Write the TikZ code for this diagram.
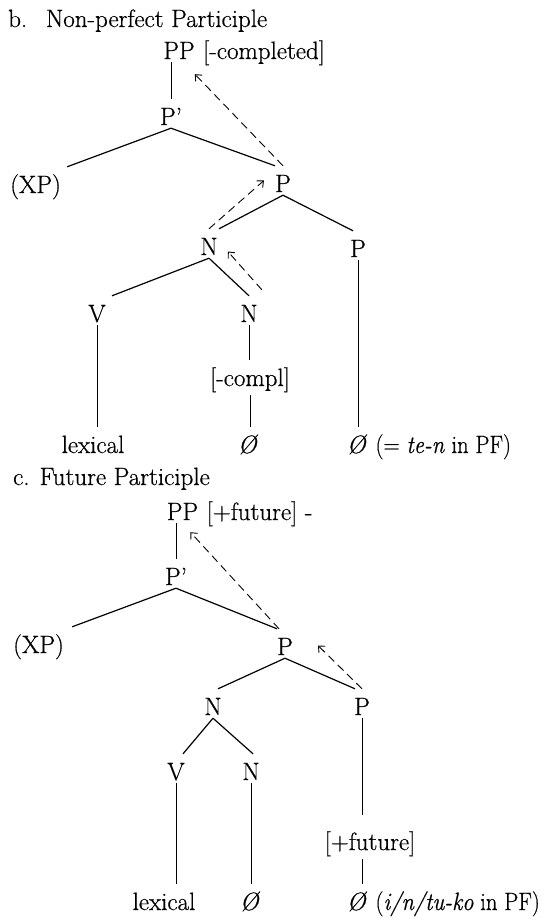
\documentclass[tikz,border=0pt]{standalone}
\usepackage{fontspec}
\setmainfont{Latin Modern Roman}[FakeBold=0.6]
\usepackage{graphicx}
\usetikzlibrary{arrows.meta,calc}
\begin{document}
\begin{tikzpicture}[x=1pt,y=-1pt,
  every node/.style={font=\fontsize{25}{30}\selectfont},
  lbl/.style={inner xsep=0pt,inner ysep=3pt,text height=23pt,text depth=0pt,anchor=base},
  brk/.style={lbl,text depth=6pt},
  ttl/.style={inner sep=0pt,anchor=base west},
  edge/.style={line width=1.2pt},
  vedge/.style={line width=0.8pt},
  mv/.style={line width=0.9pt,dash pattern=on 8pt off 5pt,-{Straight Barb[length=5pt,width=9pt]}}]
\useasboundingbox (0,0) rectangle (551,918);

% ---------- b. Non-perfect Participle ----------
\node[ttl] (btitle) at (8,27) {b.\hspace{0.75em}Non-perfect Participle};
\node[lbl] (bPP) at (179,59) {PP};
\node[lbl,anchor=base west] (bPPf) at ([xshift=8pt]bPP.base east) {[-completed]};
\node[lbl] (bPpr) at (171,125) {P’};
\node[lbl,anchor=base west] (bXP) at (10,193) {(XP)};
\node[lbl] (bP1) at (283,192) {P};
\node[lbl] (bN1) at (209,255) {N};
\node[lbl] (bP2) at (358,257) {P};
\node[lbl] (bV) at (97,322) {V};
\node[lbl] (bN2) at (249,322) {N};
\node[brk] (bcompl) at (250,386) {[-compl]};
\node[lbl] (blex) at (93,453) {lexical};
\node[lbl] (bnull) at (248,453) {\textit{Ø}};
\node[lbl] (bnull2) at (357,453) {\textit{Ø}};
\node[lbl,anchor=base west] (bpf) at ([xshift=8pt]bnull2.base east) {\scalebox{0.9}[1]{(= \textit{te-n} in PF)}};

\draw[vedge] (bPpr.north |- bPP.south) -- (bPpr.north);
\draw[edge] (bPpr.south) -- ([xshift=6pt]bXP.north east);
\draw[edge] (bPpr.south) -- ([xshift=-8pt]bP1.north);
\draw[edge] (bP1.south) -- ([xshift=10pt]bN1.north);
\draw[edge] (bP1.south) -- ([xshift=-5pt]bP2.north);
\draw[edge] (bN1.south) -- ([xshift=15pt]bV.north);
\draw[edge] (bN1.south) -- (bN2.north);
\draw[vedge] (bV.south) -- (bV.south |- blex.north);
\draw[vedge] (bN2.south) -- (bN2.south |- bcompl.north);
\draw[vedge] (bcompl.south) -- (bcompl.south |- bnull.north);
\draw[vedge] (bP2.south) -- (bP2.south |- bnull2.north);

\draw[mv] (bP1.north) -- ([yshift=-12pt]bPP.south east);
\draw[mv] (bN1.north) -- ([xshift=-11pt]bP1.west);
\draw[mv] ([xshift=4pt,yshift=6pt]bN2.north east) -- ([xshift=10pt,yshift=-8pt]bN1.east);

% ---------- c. Future Participle ----------
\node[ttl] (ctitle) at (13,485) {c. Future Participle};
\node[lbl] (cPP) at (182.5,520) {PP};
\node[lbl,anchor=base west] (cPPf) at ([xshift=8pt]cPP.base east) {[+future] -};
\node[lbl] (cPpr) at (176,585) {P’};
\node[lbl,anchor=base west] (cXP) at (13,653) {(XP)};
\node[lbl] (cP1) at (285,655) {P};
\node[lbl] (cN1) at (213,715) {N};
\node[lbl] (cP2) at (362,715) {P};
\node[lbl] (cV) at (176,780) {V};
\node[lbl] (cN2) at (251,780) {N};
\node[brk] (cfut) at (370,850) {[+future]};
\node[lbl] (clex) at (164,910) {lexical};
\node[lbl] (cnull) at (250,910) {\textit{Ø}};
\node[lbl] (cnull2) at (357,910) {\textit{Ø}};
\node[lbl,anchor=base west] (cpf) at ([xshift=8pt]cnull2.base east) {\scalebox{0.9}[1]{(\textit{i/n/tu-ko} in PF)}};

\draw[vedge] (cPpr.north |- cPP.south) -- (cPpr.north);
\draw[edge] (cPpr.south) -- ([xshift=8pt]cXP.north east);
\draw[edge] (cPpr.south) -- ([xshift=-8pt]cP1.north);
\draw[edge] (cP1.south) -- ([xshift=5pt]cN1.north);
\draw[edge] (cP1.south) -- ([xshift=-7pt]cP2.north);
\draw[edge] (cN1.south) -- ([xshift=7pt]cV.north);
\draw[edge] (cN1.south) -- ([xshift=2pt]cN2.north);
\draw[vedge] (cV.south) -- (cV.south |- clex.north);
\draw[vedge] (cN2.south) -- (cN2.south |- cnull.north);
\draw[vedge] (cP2.south) -- ($(cP2.south |- cfut.north)+(0,-9)$);
\draw[vedge] (cP2.south |- cfut.south) -- (cP2.south |- cnull2.north);

\draw[mv] ([xshift=-6pt]cP1.north) -- ([xshift=-8pt,yshift=-9pt]cPP.south east);
\draw[mv] (cP2.north) -- ([xshift=25pt,yshift=-2pt]cP1.east);
\end{tikzpicture}
\end{document}
